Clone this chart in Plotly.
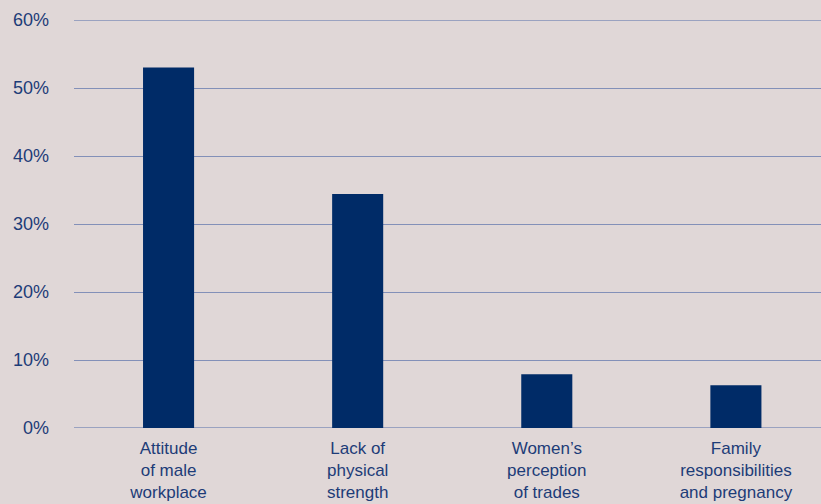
import plotly.graph_objects as go

# Survey results: barriers for women entering the trades
categories = [
    "Attitude<br>of male<br>workplace",
    "Lack of<br>physical<br>strength",
    "Women’s<br>perception<br>of trades",
    "Family<br>responsibilities<br>and pregnancy",
]
shares = [53, 34.4, 7.9, 6.3]
y_ticks = [0, 10, 20, 30, 40, 50, 60]
y_tick_text = [f"{v}%" for v in y_ticks]

navy = "#002b67"
text_blue = "#1d3c78"
grid = "#8390b8"

fig = go.Figure(
    go.Bar(
        x=list(range(len(categories))),
        y=shares,
        width=0.27,
        marker=dict(color=navy, line=dict(width=0)),
        hoverinfo="skip",
    )
)

fig.update_layout(
    width=821,
    height=504,
    margin=dict(l=74, r=0, t=20, b=76),
    paper_bgcolor="#e0d7d7",
    plot_bgcolor="rgba(0,0,0,0)",
    showlegend=False,
    font=dict(family="Liberation Sans, Arial, sans-serif", color=text_blue),
    xaxis=dict(
        range=[-0.5, 3.45],
        tickmode="array",
        tickvals=list(range(len(categories))),
        ticktext=categories,
        tickfont=dict(size=17, color=text_blue),
        showgrid=False,
        zeroline=False,
        showline=False,
        ticks="",
        ticklabelstandoff=8,
        fixedrange=True,
    ),
    yaxis=dict(
        range=[0, 60],
        tickmode="array",
        tickvals=y_ticks,
        ticktext=y_tick_text,
        tickfont=dict(size=18, color=text_blue),
        showgrid=True,
        gridcolor=grid,
        gridwidth=1.4,
        zeroline=False,
        showline=False,
        ticks="",
        ticklabelstandoff=24,
        fixedrange=True,
    ),
)

# Faint light swirls in the backdrop
swirls = [
    "M 0 330 C 120 200, 420 130, 821 150",
    "M 330 504 C 380 380, 520 260, 700 200",
    "M 600 504 C 620 420, 680 330, 821 300",
]
for p in swirls:
    fig.add_shape(
        type="path", path=p, xref="paper", yref="paper", layer="below",
        line=dict(color="rgba(255,255,255,0.22)", width=10),
    )

# Grid lines at the ends of the value range
for v in (y_ticks[0], y_ticks[-1]):
    fig.add_shape(
        type="line", xref="paper", x0=0, x1=1, yref="y", y0=v, y1=v,
        layer="below", line=dict(color=grid, width=1.4),
    )

fig.write_html("out.html")
